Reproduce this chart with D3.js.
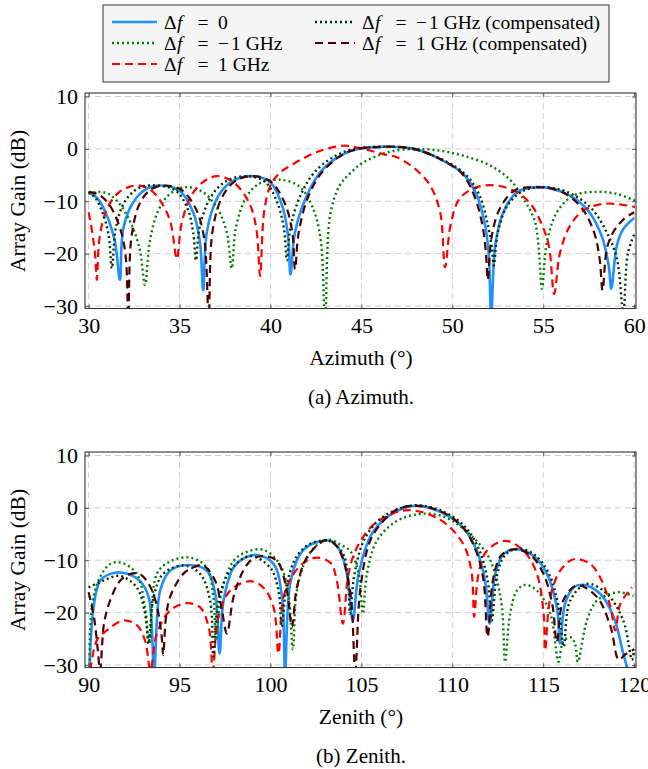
<!doctype html>
<html>
<head>
<meta charset="utf-8">
<script src="https://cdn.jsdelivr.net/npm/d3@7"></script>
<style>
  body { margin: 0; background: #fff; }
</style>
</head>
<body>
<svg width="648" height="769"></svg>
<script>
// ---- data ----
const azTicks = [30, 35, 40, 45, 50, 55, 60];
const zenTicks = [90, 95, 100, 105, 110, 115, 120];
const gainTicks = [-30, -20, -10, 0, 10];

// azimuth cut, [deg, dB]
const azBlue = [[30.0,-8.3],[30.5,-9.5],[31.0,-12.7],[31.45,-17.8],[31.72,-25],
  [31.9,-15.3],[32.45,-10.2],[33.2,-7.6],[34.0,-7.0],[35.0,-8.0],[35.75,-12.1],[36.12,-17.8],[36.3,-27],
  [36.5,-15.9],[37.05,-9.5],[37.8,-6.4],[38.9,-5.2],[40.0,-6.4],[40.7,-11.5],[40.98,-17.2],[41.1,-24],
  [41.35,-15.9],[42.0,-8.9],[42.9,-3.8],[44.4,-0.4],[46.2,0.4],[47.9,0],[49.3,-1.9],[50.6,-4.8],[51.35,-8.9],[51.8,-14.6],[52.0,-20],[52.14,-32],
  [52.36,-18.4],[52.8,-12.1],[53.55,-8.3],[54.65,-7.3],[56.1,-8.3],[57.4,-11.5],[58.2,-16.5],[58.6,-22.3],[58.74,-26.7],
  [59.05,-18.4],[59.4,-15.3],[60.0,-13.2]];
const azGreen = [[30.0,-8.6],[30.5,-8.2],[31.1,-8.6],[31.7,-10.5],[32.3,-14],[32.8,-19],[33.1,-26],
  [33.35,-18],[33.8,-12],[34.5,-8.5],[35.4,-7.3],[36.3,-8.3],[37.1,-11.5],[37.6,-16],[37.87,-22.8],
  [38.1,-15],[38.7,-9],[39.5,-6.4],[40.6,-5.9],[41.6,-7.2],[42.3,-11],[42.75,-17],[43.0,-32],
  [43.28,-12.7],[43.8,-7.0],[44.4,-4.6],[45.1,-2.6],[46.5,-0.6],[48.0,0],[49.4,-0.4],[50.6,-1.3],[52.1,-3.2],[53.2,-6.0],[53.9,-9.5],[54.5,-13.4],[54.74,-18.5],[54.93,-26.7],
  [55.2,-17.8],[55.75,-12.1],[56.67,-8.9],[57.95,-8.2],[59.05,-8.6],[60.05,-9.9]];
const azRed = [[30.0,-12.1],[30.2,-16],[30.35,-20],[30.45,-25],
  [30.6,-17],[31.0,-11.5],[31.6,-8.5],[32.2,-7.3],[32.8,-7.0],[33.4,-7.8],[34.0,-10.2],[34.5,-14],[34.85,-21],
  [35.1,-14.5],[35.6,-9.2],[36.3,-6.3],[37.05,-5.2],[37.9,-6.2],[38.5,-8.4],[38.97,-11.5],[39.25,-16],[39.43,-24.3],
  [39.65,-12],[40.0,-7.0],[40.5,-4.6],[41.1,-3.2],[42.56,-0.6],[44.0,0.6],[45.1,0.0],[46.2,-1.0],[46.95,-1.6],[48.05,-4.1],[48.78,-7.0],[49.33,-12.1],[49.6,-22.6],
  [49.9,-14.6],[50.4,-9.5],[51.35,-7.3],[52.45,-7.0],[53.55,-8.3],[54.3,-10.5],[54.8,-13.5],[55.3,-18.4],[55.6,-27.7],
  [55.93,-19.7],[56.48,-14.6],[57.2,-11.8],[58.3,-10.5],[59.2,-10.6],[60.05,-11.1]];
const azDkGreen = [[30.0,-8.2],[30.4,-9.5],[30.8,-12.5],[31.1,-16.5],[31.28,-22.8],
  [31.5,-15],[32.0,-10],[32.8,-7.4],[33.8,-7.0],[34.8,-8.0],[35.45,-11.5],[35.75,-16],[35.9,-21.3],
  [36.1,-15],[36.7,-9.3],[37.5,-6.3],[38.6,-5.2],[39.7,-6.3],[40.4,-10.5],[40.75,-15.5],[40.9,-21.3],
  [41.1,-15],[41.7,-8.5],[42.6,-3.8],[44.1,-0.5],[46.0,0.4],[47.8,0],[49.3,-1.8],[50.7,-4.8],[51.5,-8.9],[51.95,-14.5],[52.18,-19],[52.28,-22.3],
  [52.5,-16],[53.0,-11],[53.8,-8.2],[54.9,-7.3],[56.3,-8.2],[57.6,-11.2],[58.5,-16],[59.05,-21],[59.4,-31],
  [59.65,-20],[60.05,-15.9]];
const azMaroon = [[30.0,-8.2],[30.6,-8.8],[31.2,-11],[31.8,-16],[32.05,-21],[32.18,-32],
  [32.35,-17],[32.8,-10.5],[33.4,-7.8],[34.1,-7.0],[35.1,-7.8],[35.9,-11.5],[36.35,-17],[36.6,-32],
  [36.8,-16],[37.3,-9.5],[38.0,-6.3],[38.9,-5.2],[40.0,-6.2],[40.8,-10.5],[41.2,-16],[41.35,-23],
  [41.55,-16],[42.1,-8.9],[43.0,-3.8],[44.4,-0.4],[46.2,0.4],[47.9,0],[49.3,-1.9],[50.5,-4.6],[51.2,-8.9],[51.65,-14.5],[51.85,-20],[51.95,-25],
  [52.15,-17],[52.6,-11.5],[53.4,-8.0],[54.6,-7.3],[56.0,-8.2],[57.1,-11.2],[57.8,-16],[58.1,-21],[58.26,-27],
  [58.5,-19],[58.85,-15.9],[59.4,-13.5],[60.0,-12.1]];

// zenith cut, [deg, dB]
const zenBlue = [[90.05,-31],[90.27,-19],[90.63,-13.9],[91.2,-12.6],[91.9,-12.4],[92.8,-13.9],[93.3,-17],[93.6,-31],
  [93.93,-15.8],[94.48,-12],[95.5,-10.9],[96.5,-12],[96.96,-16.4],[97.2,-27.8],
  [97.42,-17.7],[97.97,-11.4],[98.6,-9.5],[99.25,-9.0],[100.17,-10.7],[100.63,-17],[100.8,-31],
  [101.08,-14.5],[101.63,-8.8],[102.2,-7.0],[102.9,-6.3],[103.3,-6.3],[103.83,-8.2],[104.2,-12.6],[104.53,-21.5],
  [104.85,-12.6],[105.67,-4.4],[106.95,-0.6],[108.05,0.4],[109.5,-1.0],[110.6,-3.8],[111.35,-8.2],[111.8,-13.9],[112.05,-22.1],
  [112.36,-12.6],[112.82,-8.8],[113.55,-7.9],[114.47,-9.2],[115.2,-12.6],[115.75,-19],[115.93,-25.9],
  [116.2,-18.3],[116.67,-15.2],[117.2,-14.7],[118.13,-16.4],[118.87,-20.8],[119.4,-27.8],[119.65,-31]];
const zenGreen = [[90.05,-31],[90.17,-19],[90.54,-13.9],[91.18,-10.7],[91.82,-10.5],[92.65,-12.6],[93.1,-19],[93.35,-26],
  [93.75,-12.6],[94.5,-10.2],[95.58,-9.5],[96.5,-11.4],[96.86,-17],[97.0,-25.3],
  [97.33,-15.8],[97.97,-10.1],[98.7,-8.4],[99.6,-8.0],[100.5,-10.7],[100.98,-16.4],[101.23,-27],
  [101.45,-15.8],[102.0,-9.5],[102.6,-7.0],[103.28,-6.1],[103.83,-7.0],[104.38,-8.2],[104.85,-12.6],[105.08,-20.2],
  [105.3,-12.6],[105.85,-6.3],[106.95,-2.5],[108.4,-1.1],[109.7,-1.9],[110.98,-5.1],[111.9,-8.8],[112.36,-12.6],[112.73,-19],[112.9,-29.4],
  [113.18,-20.2],[113.55,-15.8],[114.0,-14.7],[114.65,-15.8],[115.39,-20.2],[115.84,-29.4],
  [116.1,-25.5],[116.5,-24.7],[116.75,-26],[116.9,-29.4],
  [117.4,-21.5],[117.95,-17.7],[118.7,-16.4],[119.2,-16.1],[119.95,-16.8]];
const zenRed = [[90.1,-31],[90.45,-25.3],[91.0,-23.4],[91.9,-21.5],[92.65,-22.4],[93.1,-25.3],[93.4,-31],
  [93.75,-24],[94.48,-19.6],[95.4,-18.2],[96.13,-19],[96.6,-22.7],[96.83,-31],
  [97.14,-20.8],[97.78,-15.8],[98.88,-14],[99.6,-15.2],[100.17,-19],[100.44,-27.8],
  [100.72,-17],[101.27,-12.6],[101.9,-10.3],[102.55,-9.5],[103.3,-10.5],[103.65,-13.9],[103.98,-22.1],
  [104.29,-12.6],[104.75,-7.6],[105.67,-3.2],[106.95,-0.8],[107.87,-0.5],[109.15,-1.9],[110.07,-4.4],[110.7,-7.6],[111.07,-12.6],[111.2,-20.8],
  [111.44,-12.6],[111.9,-8.2],[112.9,-6.3],[113.92,-8.2],[114.65,-12.6],[115.02,-20.2],[115.1,-27.2],
  [115.39,-17],[115.93,-12],[116.67,-9.8],[117.58,-10.7],[118.22,-13.9],[118.7,-19],[118.96,-23.4],
  [119.24,-18.3],[119.88,-15.2]];
const zenDkGreen = [[90.0,-15.2],[90.8,-13.9],[91.73,-13],[92.65,-15.2],[93.1,-20.2],[93.3,-25.9],
  [93.57,-17],[94.1,-12.6],[95.2,-11],[96.13,-12.6],[96.68,-17.7],[96.86,-28.4],
  [97.14,-17.7],[97.78,-12],[98.88,-9.2],[99.98,-11.4],[100.44,-15.8],[100.62,-22.7],
  [100.9,-14.5],[101.45,-9.2],[102.1,-7.0],[102.73,-6.3],[103.3,-6.4],[104.0,-8.8],[104.25,-13],[104.38,-20.2],
  [104.6,-13],[105.1,-6.5],[105.9,-2.5],[106.9,-0.4],[108.05,0.5],[109.5,-0.7],[110.7,-3.6],[111.5,-8.2],[111.95,-14],[112.17,-21.5],
  [112.45,-13],[112.9,-9.0],[113.6,-7.8],[114.5,-8.9],[115.3,-12.5],[115.85,-19],[116.12,-26.5],
  [116.48,-17.7],[117.4,-14.5],[118.5,-16.4],[119.4,-21.5],[119.88,-29],[120.0,-27]];
const zenMaroon = [[90.0,-16.1],[90.3,-21],[90.5,-27],[90.63,-31],
  [90.85,-22],[91.18,-17.7],[91.73,-13.9],[92.3,-12.6],[92.8,-12.6],[93.3,-14.5],[93.7,-18],[94.0,-24],[94.1,-28.1],
  [94.25,-21],[94.48,-17],[95.2,-12.6],[95.8,-11.3],[96.3,-11],[96.96,-13.9],[97.33,-19.6],[97.6,-24],
  [97.97,-17],[98.5,-12],[99.0,-9.8],[99.6,-9.2],[100.35,-10.1],[100.9,-15.8],[101.18,-22.7],
  [101.45,-15.2],[102.0,-9.5],[102.9,-6.3],[103.3,-6.3],[103.8,-8.2],[104.38,-15.8],[104.66,-31],
  [104.93,-15.8],[105.48,-6.3],[106.2,-2.5],[106.95,-0.3],[108.05,0.4],[109.5,-0.9],[110.6,-3.8],[111.3,-8.2],[111.7,-13.5],[111.94,-24.6],
  [112.25,-13.5],[112.7,-9.0],[113.4,-7.9],[114.3,-9.0],[115.0,-12.5],[115.5,-18.5],[115.75,-25.6],
  [116.1,-17.7],[116.85,-14.8],[117.95,-17],[118.7,-22.7],[119.15,-29],[119.5,-28],[120.0,-27]];

// legend text: sign and the rest of each value after "Δf ="
const legendSigns = ["", "\u2212", "", "\u2212", ""];
const legendNames = ["0", "1 GHz", "1 GHz", "1 GHz (compensated)", "1 GHz (compensated)"];

// ---- styles ----
const serif = "'Liberation Serif', 'Times New Roman', serif";
const styles = [
  { color: "#1E90FF", width: 2.6, dash: null },      // Δf = 0
  { color: "#008000", width: 2.4, dash: "2,3" },     // Δf = -1 GHz
  { color: "#FF0000", width: 2.2, dash: "8,5" },     // Δf = 1 GHz
  { color: "#003300", width: 2.4, dash: "2,3" },     // -1 GHz comp
  { color: "#4D0000", width: 2.2, dash: "8,5" }      // 1 GHz comp
];

const svg = d3.select("svg");
const left = 85, right = 636, ph = 215.5;

function panel(top, xDomain, xTicks, xLabel, caption, series) {
  const x = d3.scaleLinear().domain(xDomain).range([left, right]);
  const y = d3.scaleLinear().domain([-30.48, 10.67]).range([top + ph, top]);
  const g = svg.append("g");
  const clipId = "clip" + Math.round(top);

  svg.append("clipPath").attr("id", clipId)
    .append("rect").attr("x", left).attr("y", top).attr("width", right - left).attr("height", ph);

  // grid
  g.append("g").selectAll("line").data(xTicks).enter().append("line")
    .attr("x1", d => x(d)).attr("x2", d => x(d)).attr("y1", top).attr("y2", top + ph)
    .attr("stroke", "#cfcfcf").attr("stroke-dasharray", "6,4");
  g.append("g").selectAll("line").data(gainTicks).enter().append("line")
    .attr("y1", d => y(d)).attr("y2", d => y(d)).attr("x1", left).attr("x2", right)
    .attr("stroke", "#cfcfcf").attr("stroke-dasharray", "6,4");

  // curves
  const line = d3.line().x(d => x(d[0])).y(d => y(d[1])).curve(d3.curveCatmullRom.alpha(0.5));
  const cg = g.append("g").attr("clip-path", "url(#" + clipId + ")");
  series.forEach((s, i) => {
    cg.append("path").datum(s)
      .attr("d", line).attr("fill", "none")
      .attr("stroke", styles[i].color).attr("stroke-width", styles[i].width)
      .attr("stroke-dasharray", styles[i].dash);
  });

  // axes (ticks inside, on all four sides)
  const fmt = d3.format("d");
  const bottomAx = g.append("g").attr("transform", `translate(0,${top + ph})`)
    .call(d3.axisBottom(x).tickValues(xTicks).tickSize(-4).tickPadding(9).tickFormat(fmt));
  const leftAx = g.append("g").attr("transform", `translate(${left},0)`)
    .call(d3.axisLeft(y).tickValues(gainTicks).tickSize(-4).tickPadding(7).tickFormat(fmt));
  const topAx = g.append("g").attr("transform", `translate(0,${top})`)
    .call(d3.axisTop(x).tickValues(xTicks).tickSize(-4).tickFormat(""));
  const rightAx = g.append("g").attr("transform", `translate(${right},0)`)
    .call(d3.axisRight(y).tickValues(gainTicks).tickSize(-4).tickFormat(""));
  [bottomAx, leftAx, topAx, rightAx].forEach(a => {
    a.attr("font-family", serif).attr("font-size", 22);
    a.select(".domain").remove();
    a.selectAll("line").attr("stroke", "#555");
    a.selectAll("text").attr("fill", "#000");
  });

  // frame
  g.append("rect").attr("x", left).attr("y", top).attr("width", right - left).attr("height", ph)
    .attr("fill", "none").attr("stroke", "#333").attr("stroke-width", 1.1);

  // labels
  svg.append("text").attr("x", 361).attr("y", top + 272).attr("text-anchor", "middle")
    .attr("font-family", serif).attr("font-size", 21.5).text(xLabel);
  svg.append("text").attr("x", 361).attr("y", top + 311).attr("text-anchor", "middle")
    .attr("font-family", serif).attr("font-size", 21).text(caption);
  svg.append("text").attr("transform", `translate(25,${top + 108}) rotate(-90)`)
    .attr("text-anchor", "middle").attr("font-family", serif).attr("font-size", 21.5)
    .text("Array Gain (dB)");
}

panel(93, [29.8, 60.1], azTicks, "Azimuth (\u00B0)", "(a) Azimuth.",
  [azBlue, azGreen, azRed, azDkGreen, azMaroon]);
panel(452, [89.8, 120.1], zenTicks, "Zenith (\u00B0)", "(b) Zenith.",
  [zenBlue, zenGreen, zenRed, zenDkGreen, zenMaroon]);

// ---- legend ----
const lg = svg.append("g");
lg.append("rect").attr("x", 103).attr("y", 5).attr("width", 506).attr("height", 77)
  .attr("fill", "#f5f5f5").attr("stroke", "#333").attr("stroke-width", 1);
const slots = [[112, 22], [112, 43], [112, 64], [315, 22], [315, 43]];
legendNames.forEach((name, i) => {
  const [lx, ly] = slots[i];
  const len = i < 3 ? 45 : 40;
  lg.append("line").attr("x1", lx).attr("x2", lx + len).attr("y1", ly).attr("y2", ly)
    .attr("stroke", styles[i].color).attr("stroke-width", styles[i].width)
    .attr("stroke-dasharray", styles[i].dash);
  const tx = lx + len + 7;
  const t = lg.append("text").attr("y", ly + 7)
    .attr("font-family", serif).attr("font-size", 19.5);
  // math-style spacing: Δ f = value
  t.append("tspan").attr("x", tx).text("\u0394");
  t.append("tspan").attr("x", tx + 13).attr("font-style", "italic").text("f");
  t.append("tspan").attr("x", tx + 33.5).text("=");
  if (legendSigns[i]) {
    t.append("tspan").attr("x", tx + 54).text(legendSigns[i]);
    t.append("tspan").attr("x", tx + 67).text(name);
  } else {
    t.append("tspan").attr("x", tx + 54).text(name);
  }
});
</script>
</body>
</html>
